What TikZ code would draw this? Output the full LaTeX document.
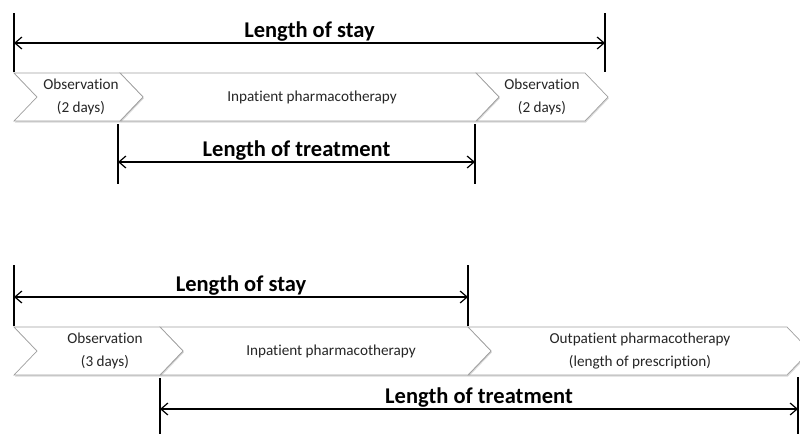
\documentclass[tikz,border=0pt]{standalone}
\usepackage{fontspec}
\setmainfont{Carlito}[Ligatures={NoCommon}]
\usetikzlibrary{arrows.meta,shadows}
\begin{document}
\begin{tikzpicture}[x=1pt,y=-1pt,
  chev/.style={draw=gray!75,fill=white,line width=0.7pt,line join=miter,
    drop shadow={shadow xshift=0.8pt,shadow yshift=-1.5pt,opacity=0.3,fill=gray}},
  ctext/.style={align=center,font=\fontsize{15.2}{23}\selectfont,text=black!85,inner sep=0pt},
  bar/.style={line width=1.4pt,black},
  span/.style={line width=1.4pt,black,{Straight Barb[length=7pt,width=12pt,line width=1.2pt]}-{Straight Barb[length=7pt,width=12pt,line width=1.2pt]}},
  lbl/.style={font=\fontsize{22.5}{26}\selectfont\bfseries,above,inner sep=1pt}]
\useasboundingbox (0,0) rectangle (800,434);
% ---------- top diagram ----------
\path[chev] (476,73) -- (585,73) -- (608,97) -- (585,121) -- (476,121) -- (499,97) -- cycle;
\path[chev] (120,73) -- (476,73) -- (499,97) -- (476,121) -- (120,121) -- (143,97) -- cycle;
\path[chev] (14,73) -- (120,73) -- (143,97) -- (120,121) -- (14,121) -- (37,97) -- cycle;
\node[ctext] (t1) at (81,97) {Observation\\(2 days)};
\node[ctext] (t2) at (312,97) {Inpatient pharmacotherapy};
\node[ctext] (t3) at (542,97) {Observation\\(2 days)};
\coordinate (sA1) at (14,13); \coordinate (sA2) at (14,72);
\coordinate (sB1) at (605,13); \coordinate (sB2) at (605,72);
\draw[bar] (sA1) -- (sA2);
\draw[bar] (sB1) -- (sB2);
\coordinate (sA) at (14,43); \coordinate (sB) at (605,43);
\draw[span] (sA) -- node[lbl] (ls1) {Length of stay} (sB);
\coordinate (tA1) at (118,124); \coordinate (tA2) at (118,184);
\coordinate (tB1) at (475,124); \coordinate (tB2) at (475,184);
\draw[bar] (tA1) -- (tA2);
\draw[bar] (tB1) -- (tB2);
\coordinate (tA) at (118,162); \coordinate (tB) at (475,162);
\draw[span] (tA) -- node[lbl] (lt1) {Length of treatment} (tB);
% ---------- bottom diagram ----------
\path[chev] (468,327) -- (787,327) -- (810,351) -- (787,375) -- (468,375) -- (491,351) -- cycle;
\path[chev] (160,327) -- (468,327) -- (491,351) -- (468,375) -- (160,375) -- (183,351) -- cycle;
\path[chev] (14,327) -- (160,327) -- (183,351) -- (160,375) -- (14,375) -- (37,351) -- cycle;
\node[ctext] (b1) at (105,351) {Observation\\(3 days)};
\node[ctext] (b2) at (331,351) {Inpatient pharmacotherapy};
\node[ctext] (b3) at (640,351) {Outpatient pharmacotherapy\\(length of prescription)};
\coordinate (uA1) at (14,265); \coordinate (uA2) at (14,326);
\coordinate (uB1) at (468,265); \coordinate (uB2) at (468,326);
\draw[bar] (uA1) -- (uA2);
\draw[bar] (uB1) -- (uB2);
\coordinate (uA) at (14,297); \coordinate (uB) at (468,297);
\draw[span] (uA) -- node[lbl] (ls2) {Length of stay} (uB);
\coordinate (vA1) at (160,378); \coordinate (vA2) at (160,434);
\coordinate (vB1) at (798,377); \coordinate (vB2) at (798,434);
\draw[bar] (vA1) -- (vA2);
\draw[bar] (vB1) -- (vB2);
\coordinate (vA) at (160,409); \coordinate (vB) at (798,409);
\draw[span] (vA) -- node[lbl] (lt2) {Length of treatment} (vB);
\end{tikzpicture}
\end{document}
